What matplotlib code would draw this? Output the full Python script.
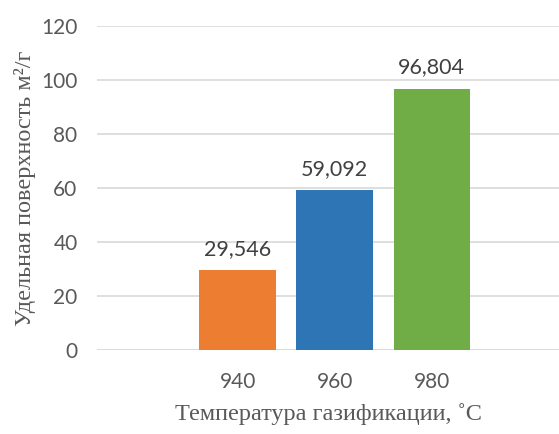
import numpy as np
import matplotlib.pyplot as plt

# Удельная поверхность при разных температурах газификации
temps = ['940', '960', '980']
surface = [29.546, 59.092, 96.804]
colors = ['#ED7D31', '#2E75B6', '#70AD47']
yticks = [0, 20, 40, 60, 80, 100, 120]

fig = plt.figure(figsize=(5.59, 4.34), dpi=100)
ax = fig.add_axes([0.1735, 0.1935, 0.8265, 0.7465])

x = np.arange(len(temps))
bars = ax.bar(x, surface, width=0.79, color=colors, zorder=3)

for xi, v in zip(x, surface):
    ax.annotate(f'{v:.3f}'.replace('.', ','), (xi, v), xytext=(0, 8),
                textcoords='offset points', ha='center', va='bottom',
                fontsize=15.5, color='#404040', family='Lato')

ax.set_xlim(-1.45, 3.31)
ax.set_ylim(0, 120)
ax.set_yticks(yticks)
ax.set_xticks(x)
ax.set_xticklabels(temps)
ax.yaxis.grid(True, color='#D9D9D9', lw=1.2, zorder=0)
ax.tick_params(axis='y', length=0, labelsize=15, labelcolor='#595959', pad=14)
ax.tick_params(axis='x', length=0, labelsize=15, labelcolor='#595959', pad=16)
for lab in ax.get_xticklabels() + ax.get_yticklabels():
    lab.set_family('Lato')
for s in ax.spines.values():
    s.set_visible(False)
ax.axhline(0, color='#D9D9D9', lw=1.2, zorder=1)

ax.set_xlabel('Температура газификации, ˚C', family='Liberation Serif',
              fontsize=17.5, color='#595959', labelpad=8)
ax.set_ylabel('Удельная поверхность м²/г', family='Liberation Serif',
              fontsize=17.5, color='#595959', labelpad=4)

fig.savefig('out.png', dpi=100)
